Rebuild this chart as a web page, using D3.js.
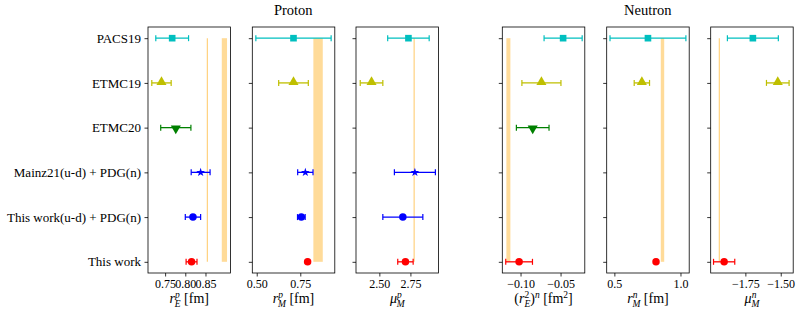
<!DOCTYPE html>
<html>
<head>
    <meta charset="utf-8">
    <style>
        body { margin: 0; background: #fff; }
        text { font-family: "Liberation Serif", "DejaVu Serif", serif; fill: #000; }
    </style>
    <script src="https://d3js.org/d3.v7.min.js"></script>
</head>
<body>
<script>
    // categories, top to bottom
    const labels = ["PACS19", "ETMC19", "ETMC20", "Mainz21(u-d) + PDG(n)", "This work(u-d) + PDG(n)", "This work"];
    const colors = ["#00bfbf", "#bfbf00", "#008000", "#0000ff", "#0000ff", "#ff0000"];
    const symbols = ["square", "triangle", "triangleDown", "star", "circle", "circle"];

    // values and errors per quantity (null = no result)
    const rEpVal = [0.7675, 0.741, 0.7765, 0.838, 0.819, 0.8155];
    const rEpErr = [0.0406, 0.024, 0.0374, 0.0234, 0.019, 0.0135];
    const rMpVal = [0.711, 0.711, null, 0.779, 0.756, 0.792];
    const rMpErr = [0.216, 0.085, null, 0.044, 0.022, 0.004];
    const muPVal = [2.734, 2.437, null, 2.786, 2.689, 2.71];
    const muPErr = [0.167, 0.091, null, 0.165, 0.161, 0.062];
    const rE2nVal = [-0.0468, -0.0739, -0.0848, null, null, -0.1018];
    const rE2nErr = [0.0238, 0.0244, 0.0204, null, null, 0.0167];
    const rMnVal = [0.754, 0.708, null, null, null, 0.815];
    const rMnErr = [0.287, 0.058, null, null, null, 0.008];
    const muNVal = [-1.697, -1.521, null, null, null, -1.900];
    const muNErr = [0.18, 0.08, null, null, null, 0.075];

    // reference values: thin lines and bands [centre, half width]
    const refLines = [0.8547, null, 2.780, null, null, -1.934];
    const refBands = [[0.8969, 0.0065], [0.852, 0.027], null, [-0.1152, 0.0025], [0.864, 0.013], null];

    const xTicks = [[0.75, 0.80, 0.85], [0.50, 0.75], [2.50, 2.75], [-0.10, -0.05], [0.5, 1.0], [-1.75, -1.50]];
    const xDomains = [[0.7076, 0.912], [0.4746, 0.948], [2.312, 2.976], [-0.1228, -0.0197], [0.442, 1.066], [-1.995, -1.412]];
    const tickFormats = [".2f", ".2f", ".2f", ".2f", ".1f", ".2f"];

    const width = 805, height = 315;
    const plotTop = 27, plotBottom = 273;
    const panelLeft = [148, 252.3, 356, 502.3, 606.7, 710.7];
    const panelW = 82.5;

    const panels = [
        { val: rEpVal, err: rEpErr, name: ["r", "E", "p", " [fm]"] },
        { val: rMpVal, err: rMpErr, name: ["r", "M", "p", " [fm]"] },
        { val: muPVal, err: muPErr, name: ["μ", "M", "p", ""] },
        { val: rE2nVal, err: rE2nErr, name: null },
        { val: rMnVal, err: rMnErr, name: ["r", "M", "n", " [fm]"] },
        { val: muNVal, err: muNErr, name: ["μ", "M", "n", ""] }
    ];

    const svg = d3.select("body").append("svg")
        .attr("width", width)
        .attr("height", height);

    // row 0 at the top
    const y = d3.scaleLinear().domain([-0.25, 5.25]).range([plotTop, plotBottom]);

    const symbolTypes = {
        square: d3.symbolSquare,
        triangle: d3.symbolTriangle,
        triangleDown: d3.symbolTriangle,
        star: d3.symbolStar,
        circle: d3.symbolCircle
    };
    const symbolSizes = { square: 44, triangle: 44, triangleDown: 44, star: 24, circle: 44 };

    panels.forEach(function (p, k) {
        const x0 = panelLeft[k];
        const x = d3.scaleLinear().domain(xDomains[k]).range([x0, x0 + panelW]);
        const g = svg.append("g");

        // reference band and line
        if (refBands[k]) {
            const b = refBands[k];
            g.append("rect")
                .attr("x", x(b[0] - b[1]))
                .attr("width", x(b[0] + b[1]) - x(b[0] - b[1]))
                .attr("y", y(0))
                .attr("height", y(5) - y(0))
                .attr("fill", "#ffa500")
                .attr("opacity", 0.4);
        }
        if (refLines[k] !== null) {
            g.append("line")
                .attr("x1", x(refLines[k])).attr("x2", x(refLines[k]))
                .attr("y1", y(0)).attr("y2", y(5))
                .attr("stroke", "#ffa500")
                .attr("stroke-opacity", 0.5)
                .attr("stroke-width", 1.2);
        }

        // error bars
        const pts = p.val.map(function (v, i) { return { v: v, e: p.err[i], i: i }; })
            .filter(function (d) { return d.v !== null; });

        const eb = g.selectAll(".eb").data(pts).enter().append("g");
        eb.append("line")
            .attr("x1", function (d) { return x(d.v - d.e); })
            .attr("x2", function (d) { return x(d.v + d.e); })
            .attr("y1", function (d) { return y(d.i); })
            .attr("y2", function (d) { return y(d.i); })
            .attr("stroke", function (d) { return colors[d.i]; })
            .attr("stroke-width", 1.3);
        [-1, 1].forEach(function (s) {
            eb.append("line")
                .attr("x1", function (d) { return x(d.v + s * d.e); })
                .attr("x2", function (d) { return x(d.v + s * d.e); })
                .attr("y1", function (d) { return y(d.i) - 3; })
                .attr("y2", function (d) { return y(d.i) + 3; })
                .attr("stroke", function (d) { return colors[d.i]; })
                .attr("stroke-width", 1.2);
        });

        // markers
        g.selectAll(".mk").data(pts).enter().append("path")
            .attr("d", function (d) {
                const s = symbols[d.i];
                return d3.symbol().type(symbolTypes[s]).size(symbolSizes[s])();
            })
            .attr("transform", function (d) {
                const rot = symbols[d.i] === "triangleDown" ? " rotate(180)" : "";
                const dy = symbols[d.i] === "triangle" ? -0.8 : (symbols[d.i] === "triangleDown" ? 0.8 : 0);
                return "translate(" + x(d.v) + "," + (y(d.i) + dy) + ")" + rot;
            })
            .attr("fill", function (d) { return colors[d.i]; });

        // frame
        g.append("rect")
            .attr("x", x0).attr("y", plotTop)
            .attr("width", panelW).attr("height", plotBottom - plotTop)
            .attr("fill", "none")
            .attr("stroke", "#000")
            .attr("stroke-width", 0.8);

        // x axis
        const xAxis = g.append("g")
            .attr("transform", "translate(0," + plotBottom + ")")
            .call(d3.axisBottom(x).tickValues(xTicks[k])
                .tickFormat(function (v) { return d3.format(tickFormats[k])(v).replace("-", "\u2212"); })
                .tickSize(3.5).tickPadding(3));
        xAxis.select(".domain").remove();
        xAxis.attr("font-family", null);
        xAxis.selectAll("line").attr("stroke-width", 0.8);
        xAxis.selectAll("text").attr("font-size", 12);

        // y axis
        const yAxis = g.append("g")
            .attr("transform", "translate(" + x0 + ",0)")
            .call(d3.axisLeft(y).tickValues(d3.range(6))
                .tickFormat(function (i) { return k === 0 ? labels[i] : ""; })
                .tickSize(3.5).tickPadding(3.5));
        yAxis.select(".domain").remove();
        yAxis.attr("font-family", null);
        yAxis.selectAll("line").attr("stroke-width", 0.8);
        yAxis.selectAll("text").attr("font-size", 13);

        // x label
        const cx = x0 + panelW / 2;
        const lab = svg.append("text")
            .attr("x", cx).attr("y", 303)
            .attr("text-anchor", "middle")
            .attr("font-size", 14);
        if (p.name) {
            lab.append("tspan").attr("font-style", "italic").text(p.name[0]);
            lab.append("tspan").attr("font-style", "italic").attr("font-size", 9.5)
                .attr("dy", -5.5).text(p.name[2]);
            lab.append("tspan").attr("font-style", "italic").attr("font-size", 9.5)
                .attr("dx", -5).attr("dy", 9).text(p.name[1]);
            lab.append("tspan").attr("dy", -3.5).text(p.name[3]);
        } else {
            lab.append("tspan").text("(");
            lab.append("tspan").attr("font-style", "italic").text("r");
            lab.append("tspan").attr("font-size", 9.5).attr("dy", -5.5).text("2");
            lab.append("tspan").attr("font-style", "italic").attr("font-size", 9.5)
                .attr("dx", -4.8).attr("dy", 9).text("E");
            lab.append("tspan").attr("dy", -3.5).text(")");
            lab.append("tspan").attr("font-style", "italic").attr("font-size", 9.5)
                .attr("dy", -5.5).text("n");
            lab.append("tspan").attr("dy", 5.5).text(" [fm");
            lab.append("tspan").attr("font-size", 9.5).attr("dy", -5.5).text("2");
            lab.append("tspan").attr("dy", 5.5).text("]");
        }
    });

    // group titles
    svg.append("text")
        .attr("x", (panelLeft[0] + panelLeft[2] + panelW) / 2).attr("y", 15)
        .attr("text-anchor", "middle").attr("font-size", 14.5).text("Proton");
    svg.append("text")
        .attr("x", (panelLeft[3] + panelLeft[5] + panelW) / 2).attr("y", 15)
        .attr("text-anchor", "middle").attr("font-size", 14.5).text("Neutron");
</script>
</body>
</html>
